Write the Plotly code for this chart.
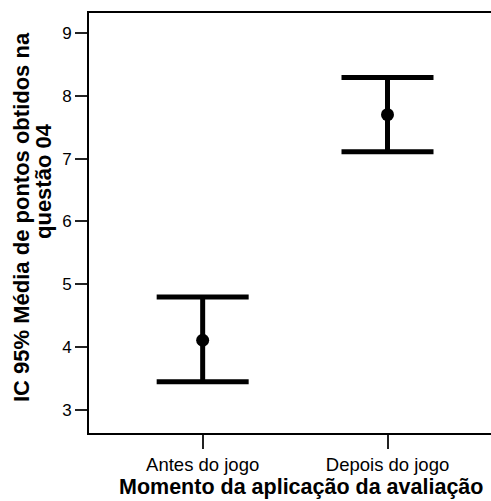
import plotly.graph_objects as go

categories = ["Antes do jogo", "Depois do jogo"]
means = [4.11, 7.70]
upper = [4.80, 8.29]
lower = [3.45, 7.11]
y_ticks = [3, 4, 5, 6, 7, 8, 9]

err_plus = [u - m for u, m in zip(upper, means)]
err_minus = [m - l for m, l in zip(means, lower)]

FONT = "Liberation Sans, Arial, sans-serif"

fig = go.Figure()
fig.add_trace(go.Scatter(
    x=categories, y=means, mode="markers",
    marker=dict(color="black", size=13),
    error_y=dict(type="data", symmetric=False, array=err_plus, arrayminus=err_minus,
                 color="black", thickness=5, width=46),
    showlegend=False, hoverinfo="skip",
))

W, H = 491, 501
L, R, T, B = 89, 0, 13, 68

fig.update_layout(
    width=W, height=H,
    margin=dict(l=L, r=R, t=T, b=B, pad=0),
    paper_bgcolor="white", plot_bgcolor="white",
    font=dict(family=FONT, color="black"),
    xaxis=dict(
        type="category", range=[-0.615, 1.56],
        showline=True, linecolor="black", linewidth=2, mirror=True,
        ticks="outside", ticklen=14, tickwidth=1.5, tickcolor="#222222",
        tickfont=dict(size=18.5, family=FONT, color="black"),
        showgrid=False, zeroline=False,
    ),
    yaxis=dict(
        range=[2.634, 9.318], tickvals=y_ticks,
        showline=True, linecolor="black", linewidth=2,
        ticks="outside", ticklen=12, tickwidth=1.5, tickcolor="#222222",
        tickfont=dict(size=17, family=FONT, color="black"),
        showgrid=False, zeroline=False,
    ),
)

plot_w = W - L - R
plot_h = H - T - B

fig.add_annotation(
    text="<b>Momento da aplicação da avaliação</b>",
    xref="paper", yref="paper", x=(301 - L) / plot_w, y=0,
    yshift=-(487 - (H - B)), xanchor="center", yanchor="middle",
    showarrow=False, font=dict(size=21.5, family=FONT, color="black"),
)
fig.add_annotation(
    text="<b>IC 95% Média de pontos obtidos na</b>",
    xref="paper", yref="paper", x=0, y=0,
    xshift=21 - L, yshift=(H - B) - 217, xanchor="center", yanchor="middle",
    textangle=-90, showarrow=False, font=dict(size=22, family=FONT, color="black"),
)
fig.add_annotation(
    text="<b>questão 04</b>",
    xref="paper", yref="paper", x=0, y=0,
    xshift=43 - L, yshift=(H - B) - 181, xanchor="center", yanchor="middle",
    textangle=-90, showarrow=False, font=dict(size=22, family=FONT, color="black"),
)

fig.write_html("out.html")
